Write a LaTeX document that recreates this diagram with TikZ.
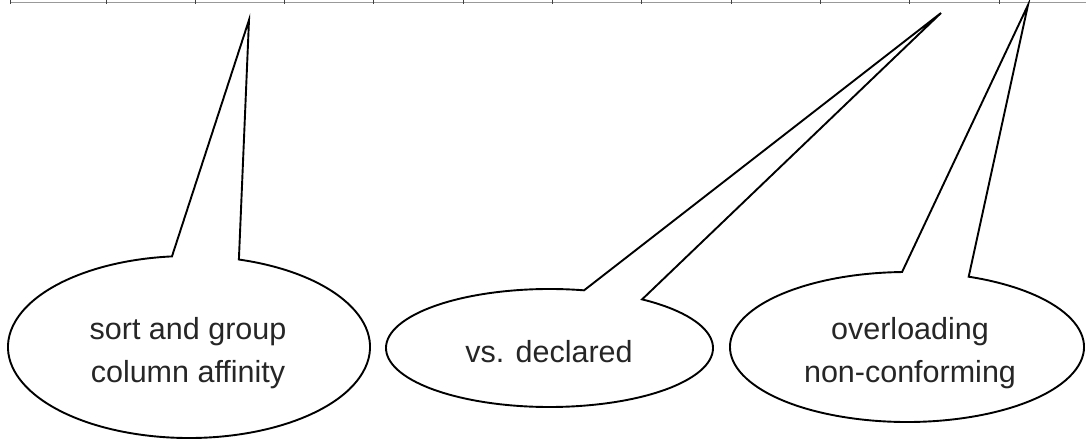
\documentclass[tikz,border=0pt]{standalone}
\usepackage{fontspec}
\setmainfont{Liberation Sans}
\usetikzlibrary{calc}
\begin{document}
\begin{tikzpicture}[x=1pt,y=1pt,
  balloon/.style={draw=black, line width=1.9pt, fill=white, line join=miter},
  label/.style={inner sep=0pt, align=center, text=black!85,
    font=\fontsize{30.5}{43}\selectfont},
  rulerline/.style={draw=black!40, line width=1pt},
  tickmark/.style={draw=black!75, line width=1pt}]
\useasboundingbox (0,0) rectangle (1086,441);

% ruler along the top edge
\coordinate (r0) at (10,438);
\coordinate (r1) at (1086,438);
\draw[rulerline] (r0) -- (r1);
\foreach \tx in {10,106,195.3,284.6,373.9,463.2,552.5,641.8,731.1,820.4,909.7,999}
  \draw[tickmark] (\tx,441) -- (\tx,437);

% balloon 1
\coordinate (c1) at (189,94);
\coordinate (tip1) at (249,421);
\draw[balloon] ($(c1)+(74:181 and 91)$)
  arc[start angle=74, end angle=-264.6, x radius=181, y radius=91]
  -- (tip1) -- cycle;
\node[label, anchor=base] (t1) at (188,58) {sort and group\\column affinity};

% balloon 2
\coordinate (c2) at (549.5,93);
\coordinate (tip2) at (941,428);
\draw[balloon] ($(c2)+(55.5:163.5 and 59)$)
  arc[start angle=55.5, end angle=-282.2, x radius=163.5, y radius=59]
  -- (tip2) -- cycle;
\node[label, anchor=base] (t2) at (549,78) {vs. declared};

% balloon 3
\coordinate (c3) at (907,94);
\coordinate (tip3) at (1028,436);
\draw[balloon] ($(c3)+(69.6:177 and 75)$)
  arc[start angle=69.6, end angle=-268.4, x radius=177, y radius=75]
  -- (tip3) -- cycle;
\node[label, anchor=base] (t3) at (910,58) {overloading\\non-conforming};
\end{tikzpicture}
\end{document}
